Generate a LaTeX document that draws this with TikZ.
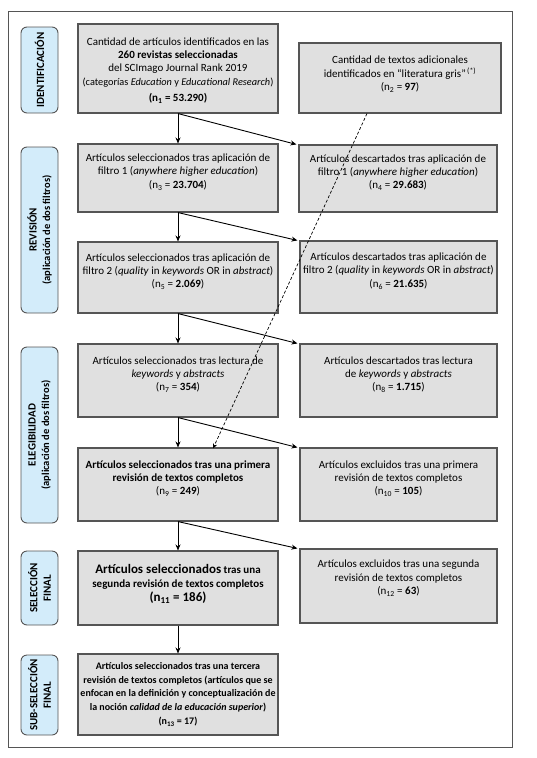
\documentclass[tikz,border=0pt]{standalone}
\usepackage{fontspec}
\setmainfont{Carlito}
\usetikzlibrary{arrows.meta,positioning}
\definecolor{boxfill}{HTML}{E0E0E0}
\definecolor{boxline}{HTML}{555555}
\definecolor{sidefill}{HTML}{D3ECFA}
\begin{document}
\begin{tikzpicture}[x=1pt,y=-1pt,
  box/.style={draw=boxline,line width=1.1pt,fill=boxfill,inner sep=0pt},
  txt/.style={align=center,font=\fontsize{11}{13.4}\selectfont,inner sep=0pt},
  side/.style={draw=boxline,line width=0.9pt,fill=sidefill,rounded corners=6pt,inner sep=0pt,minimum width=37pt},
  sidetxt/.style={rotate=90,align=center,font=\bfseries\fontsize{11}{13.5}\selectfont,inner sep=0pt},
  arr/.style={-{Stealth[length=6pt,width=5pt]},line width=0.9pt,black},
  darr/.style={-{Stealth[length=5pt,width=4.5pt]},line width=0.7pt,black,dash pattern=on 3pt off 2pt},
  ]
\useasboundingbox (0,0) rectangle (537,758);
% outer frame
\node[draw=boxline,line width=0.9pt,minimum width=504pt,minimum height=736pt,inner sep=0pt] (frame) at (260,379) {};

% side labels
\node[side,minimum height=86pt] (s1) at (39.5,70) {};
\node[sidetxt] (s1t) at (s1.center) {IDENTIFICACIÓN};
\node[side,minimum height=166pt] (s2) at (39.5,230) {};
\node[sidetxt] (s2t) at (s2.center) {REVISIÓN\\{\fontsize{10.5}{13}\selectfont (aplicación de dos filtros)}};
\node[side,minimum height=176pt] (s3) at (39.5,435) {};
\node[sidetxt] (s3t) at (s3.center) {ELEGIBILIDAD\\{\fontsize{10.5}{13}\selectfont (aplicación de dos filtros)}};
\node[side,minimum height=74pt] (s4) at (39.5,588) {};
\node[sidetxt] (s4t) at (s4.center) {SELECCIÓN\\FINAL};
\node[side,minimum height=80pt] (s5) at (39.5,695) {};
\node[sidetxt] (s5t) at (s5.center) {SUB-SELECCIÓN\\FINAL};

% boxes
\node[box,minimum width=200pt,minimum height=89pt] (n1) at (178,68.5) {};
\node[txt,yshift=-2pt] (n1t) at (n1.center) {Cantidad de artículos identificados en las\\
\textbf{260 revistas seleccionadas}\\
del SCImago Journal Rank 2019\\
{\fontsize{10.3}{13}\selectfont (categorías \textit{Education} y \textit{Educational Research})}\\[3pt]
\textbf{(n\textsubscript{1} = 53.290)}};

\node[box,minimum width=202pt,minimum height=70pt] (n2) at (400,78) {};
\node[txt,yshift=4pt] (n2t) at (n2.center) {Cantidad de textos adicionales\\
identificados en “literatura gris”\textsuperscript{\,(*)}\\
(n\textsubscript{2} = \textbf{97})};

\node[box,minimum width=200pt,minimum height=68pt] (n3) at (178,178) {};
\node[txt,yshift=6pt] (n3t) at (n3.center) {Artículos seleccionados tras aplicación de\\
filtro 1 (\textit{anywhere higher education})\\
(n\textsubscript{3} = \textbf{23.704})};

\node[box,minimum width=198pt,minimum height=67pt] (n4) at (398,178.5) {};
\node[txt,yshift=6pt] (n4t) at (n4.center) {Artículos descartados tras aplicación de\\
filtro 1 (\textit{anywhere higher education})\\
(n\textsubscript{4} = \textbf{29.683})};

\node[box,minimum width=200pt,minimum height=71pt] (n5) at (178,277.5) {};
\node[txt,yshift=6pt] (n5t) at (n5.center) {Artículos seleccionados tras aplicación de\\
filtro 2 (\textit{quality} in \textit{keywords} OR in \textit{abstract})\\
(n\textsubscript{5} = \textbf{2.069})};

\node[box,minimum width=197pt,minimum height=72pt] (n6) at (398.5,277) {};
\node[txt,yshift=6pt] (n6t) at (n6.center) {Artículos descartados tras aplicación de\\
filtro 2 (\textit{quality} in \textit{keywords} OR in \textit{abstract})\\
(n\textsubscript{6} = \textbf{21.635})};

\node[box,minimum width=200pt,minimum height=73pt] (n7) at (178,380.5) {};
\node[txt,yshift=6pt] (n7t) at (n7.center) {Artículos seleccionados tras lectura de\\
\textit{keywords} y \textit{abstracts}\\
(n\textsubscript{7} = \textbf{354})};

\node[box,minimum width=197pt,minimum height=73pt] (n8) at (398.5,380.5) {};
\node[txt,yshift=6pt] (n8t) at (n8.center) {Artículos descartados tras lectura\\
de \textit{keywords} y \textit{abstracts}\\
(n\textsubscript{8} = \textbf{1.715})};

\node[box,minimum width=200pt,minimum height=73pt] (n9) at (178,484.5) {};
\node[txt,yshift=6pt] (n9t) at (n9.center) {\textbf{Artículos seleccionados tras una primera}\\
\textbf{revisión de textos completos}\\
(n\textsubscript{9} = \textbf{249})};

\node[box,minimum width=197pt,minimum height=73pt] (n10) at (398.5,484.5) {};
\node[txt,yshift=6pt] (n10t) at (n10.center) {Artículos excluidos tras una primera\\
revisión de textos completos\\
(n\textsubscript{10} = \textbf{105})};

\node[box,minimum width=200pt,minimum height=74pt] (n11) at (178,588) {};
\node[txt,yshift=4pt] (n11t) at (n11.center) {{\fontsize{13}{16}\selectfont\bfseries Artículos seleccionados} \textbf{tras una}\\
\textbf{segunda revisión de textos completos}\\[1pt]
{\fontsize{13}{17}\selectfont\bfseries (n\textsubscript{11} = 186)}};

\node[box,minimum width=197pt,minimum height=74pt] (n12) at (398.5,586) {};
\node[txt,yshift=8pt] (n12t) at (n12.center) {Artículos excluidos tras una segunda\\
revisión de textos completos\\
(n\textsubscript{12} = \textbf{63})};

\node[box,minimum width=200pt,minimum height=81pt] (n13) at (178,694.5) {};
\node[txt,font=\bfseries\fontsize{10}{13.5}\selectfont] (n13t) at (n13.center) {Artículos seleccionados tras una tercera\\
revisión de textos completos (artículos que se\\
enfocan en la definición y conceptualización de\\
la noción \textit{calidad de la educación superior})\\[1pt]
(n\textsubscript{13} = 17)};

% arrows
\draw[arr] (n1.south) -- (n3.north);
\draw[arr] (n1.south) -- ([xshift=-2pt]n4.north west);
\draw[arr] (n3.south) -- (n5.north);
\draw[arr] (n3.south) -- ([xshift=-2pt]n6.north west);
\draw[arr] (n5.south) -- (n7.north);
\draw[arr] (n5.south) -- ([xshift=-2pt]n8.north west);
\draw[arr] (n7.south) -- (n9.north);
\draw[arr] (n7.south) -- ([xshift=-2pt]n10.north west);
\draw[arr] (n9.south) -- (n11.north);
\draw[arr] (n9.south) -- ([xshift=-2pt]n12.north west);
\draw[arr] (n11.south) -- (n13.north);
\draw[darr] ([xshift=-33pt]n2.south) -- ([xshift=35pt,yshift=-1pt]n9.north);
\end{tikzpicture}
\end{document}
